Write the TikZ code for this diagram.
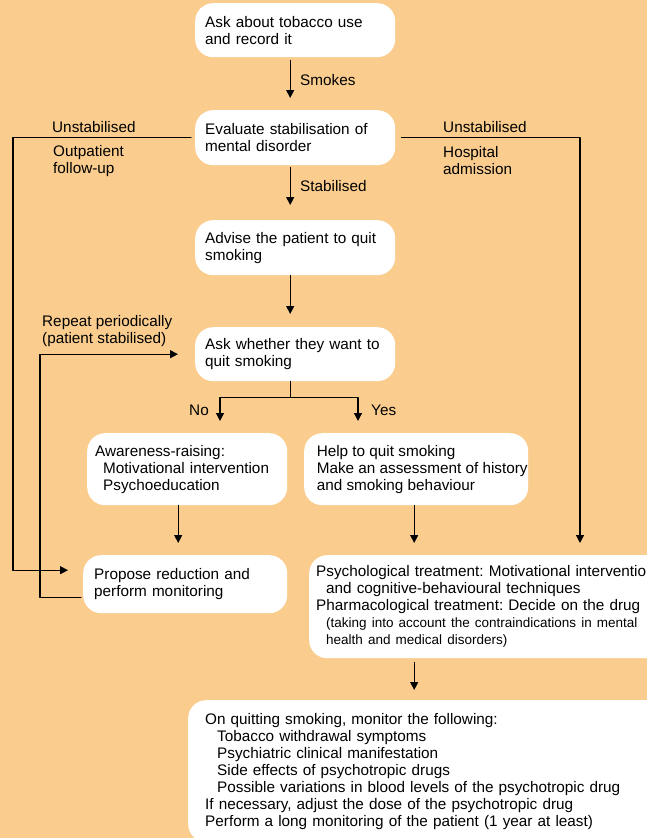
\documentclass[tikz,border=0pt]{standalone}
\usepackage{fontspec}
\setmainfont{Liberation Sans}
\usetikzlibrary{arrows.meta}
\definecolor{peach}{RGB}{250,205,143}
\newcommand{\ind}[1]{\hspace*{#1pt}}
\frenchspacing
\begin{document}
\begin{tikzpicture}[x=1pt, y=-1pt, line join=round, line cap=round,
	font=\fontsize{15.3}{17}\selectfont,
	box/.style={fill=white, rounded corners=18pt, anchor=north west, align=left, inner ysep=0pt},
	arr/.style={-{Triangle[length=8pt,width=8pt]}, line width=1.2pt},
	lbl/.style={anchor=west, align=left, inner sep=0pt}]
	\fill[peach] (0,0) rectangle (647,838);
	\useasboundingbox (0,0) rectangle (647,838);
	\clip (0,0) rectangle (647,838);
	\path 
	(13,139) coordinate (outp)
	(580,543) coordinate (hosp)
	(40,355) coordinate (rep)
	(220,421) coordinate (no)
	(358,421) coordinate (yes)
	;
	% boxes
	\node[box, minimum width=200pt, minimum height=54pt, inner xsep=10pt, text width=180pt] (ask) at (195,3) {Ask about tobacco use\\and record it};
	\node[box, minimum width=200pt, minimum height=55pt, inner xsep=10pt, text width=180pt] (eval) at (195,110) {Evaluate stabilisation of\\mental disorder};
	\node[box, minimum width=200pt, minimum height=55pt, inner xsep=10pt, text width=180pt] (advise) at (195,220) {Advise the patient to quit\\smoking};
	\node[box, minimum width=200pt, minimum height=54pt, inner xsep=10pt, text width=180pt] (want) at (195,327) {Ask whether they want to\\quit smoking};
	\node[box, minimum width=200pt, minimum height=72pt, inner xsep=8pt, text width=184pt] (aware) at (87,433) {Awareness-raising:\\\ind{8}Motivational intervention\\\ind{8}Psychoeducation};
	\node[box, minimum width=224pt, minimum height=72pt, inner xsep=0pt] (help) at (304,433) {\ind{12}Help to quit smoking\\\ind{12}Make an assessment of history\\\ind{12}and smoking behaviour};
	\node[box, minimum width=204pt, minimum height=58pt, inner xsep=11pt, text width=182pt] (propose) at (83,555) {Propose reduction and\\perform monitoring};
	\node[box, minimum width=380pt, minimum height=103pt, inner xsep=7pt, text width=366pt] (psych) at (309,555) {Psychological treatment: Motivational intervention\\\ind{10}and cognitive-behavioural techniques\\Pharmacological treatment: Decide on the drug\\{\fontsize{13.5}{16}\selectfont\ind{10}(taking into account the contraindications in mental}\\{\fontsize{13.5}{16}\selectfont\ind{10}health and medical disorders)}};
	\node[box, minimum width=480pt, minimum height=142pt, inner xsep=17pt, text width=446pt] (monitor) at (188,700) {On quitting smoking, monitor the following:\\\ind{12}Tobacco withdrawal symptoms\\\ind{12}Psychiatric clinical manifestation\\\ind{12}Side effects of psychotropic drugs\\\ind{12}Possible variations in blood levels of the psychotropic drug\\If necessary, adjust the dose of the psychotropic drug\\Perform a long monitoring of the patient (1 year at least)};
	% labels
	\node[lbl] (smk) at (300,80) {Smokes};
	\node[lbl] (stab) at (300,186) {Stabilised};
	\node[lbl] (unstl) at (52,127) {Unstabilised};
	\node[lbl] (outl) at (53,161) {Outpatient\\follow-up};
	\node[lbl] (unstr) at (443,127) {Unstabilised};
	\node[lbl] (hospl) at (443,161) {Hospital\\admission};
	\node[lbl] (repl) at (42,331.5) {Repeat periodically\\(patient stabilised)};
	\node[lbl, anchor=east] (nol) at (209,410) {No};
	\node[lbl] (yesl) at (371,410) {Yes};
	% connectors
	\draw[arr, shorten <=3pt, shorten >=12pt] ([xshift=-5pt]ask.south) -- ([xshift=-5pt]eval.north);
	\draw[arr, shorten <=2pt, shorten >=15pt] ([xshift=-5pt]eval.south) -- ([xshift=-5pt]advise.north);
	\draw[arr, shorten >=13pt] ([xshift=-5pt]advise.south) -- ([xshift=-5pt]want.north);
	\draw[arr, shorten <=4pt, shorten >=15pt] (eval.west) -- (eval.west -| outp) |- ([yshift=14pt]propose.west);
	\draw[arr, shorten <=6pt] (eval.east) -| (hosp);
	\draw[arr, shorten <=2pt, shorten >=17pt] ([yshift=-13pt]propose.west) -- ([yshift=-13pt]propose.west -| rep) |- (want.west);
	\draw[arr] ([xshift=-5pt]want.south) -- ++(0,16) -| (no);
	\draw[arr] ([xshift=-5pt]want.south) -- ++(0,16) -| (yes);
	\draw[arr, shorten >=12pt] ([xshift=-9pt]aware.south) -- ([xshift=-9pt]aware.south |- propose.north);
	\draw[arr, shorten >=12pt] ([xshift=-2pt]help.south) -- ([xshift=-2pt]help.south |- psych.north);
	\draw[arr, shorten <=4pt, shorten >=10pt] ([xshift=-2pt]help.south |- psych.south) -- ([xshift=-2pt]help.south |- monitor.north);
\end{tikzpicture}
\end{document}
